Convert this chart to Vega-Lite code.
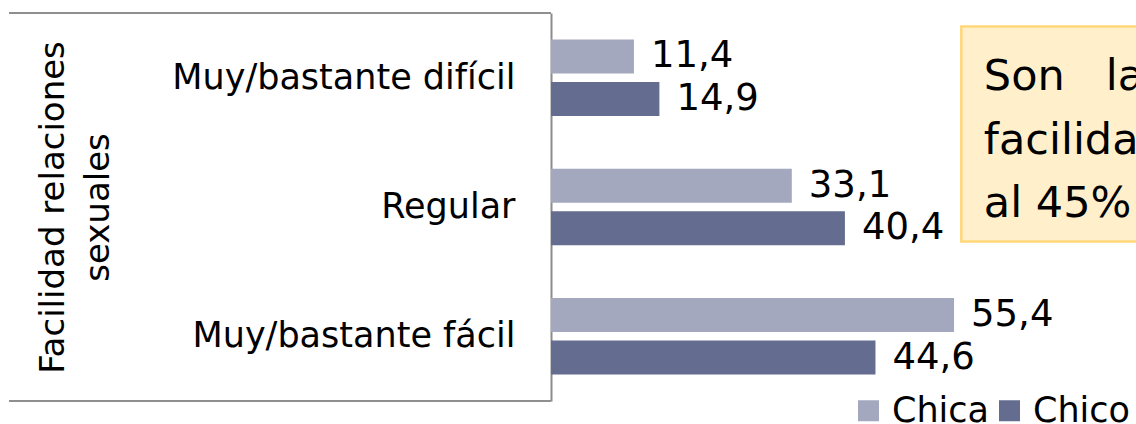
{
  "$schema": "https://vega.github.io/schema/vega-lite/v6.json",
  "width": 582,
  "height": 388,
  "autosize": {"type": "none"},
  "padding": {"left": 551, "top": 13, "right": 3, "bottom": 23},
  "config": {
    "font": "DejaVu Sans",
    "view": {"stroke": null},
    "locale": {"number": {"decimal": ",", "thousands": ".", "grouping": [3], "currency": ["", " €"]}}
  },
  "data": {
    "values": [
      {"cat": "Muy/bastante difícil", "sexo": "Chica", "valor": 11.4},
      {"cat": "Muy/bastante difícil", "sexo": "Chico", "valor": 14.9},
      {"cat": "Regular", "sexo": "Chica", "valor": 33.1},
      {"cat": "Regular", "sexo": "Chico", "valor": 40.4},
      {"cat": "Muy/bastante fácil", "sexo": "Chica", "valor": 55.4},
      {"cat": "Muy/bastante fácil", "sexo": "Chico", "valor": 44.6}
    ]
  },
  "layer": [
    {
      "layer": [
        {
          "mark": {"type": "bar"},
          "encoding": {
            "y": {
              "field": "cat", "type": "nominal", "sort": null,
              "scale": {"domain": ["Muy/bastante difícil", "Regular", "Muy/bastante fácil"], "paddingInner": 0, "paddingOuter": 0},
              "axis": {
                "title": ["Facilidad relaciones", "sexuales"],
                "domain": true, "domainColor": "#8c8c8c", "domainWidth": 2,
                "ticks": false, "tickSize": 0,
                "labelPadding": 36, "labelFontSize": 35, "labelColor": "#000000", "labelLimit": 500,
                "titleFontSize": 34, "titleFontWeight": "normal", "titleColor": "#000000",
                "titleAngle": -90, "titleX": -488, "titleY": 194, "titleAlign": "center",
                "titleBaseline": "alphabetic", "titleLineHeight": 45
              }
            },
            "yOffset": {"field": "sexo", "type": "nominal", "sort": ["Chica", "Chico"], "scale": {"paddingInner": 0.2, "paddingOuter": 0.62}},
            "x": {"field": "valor", "type": "quantitative", "scale": {"domain": [0, 80]}, "axis": null},
            "color": {
              "field": "sexo", "type": "nominal",
              "scale": {"domain": ["Chica", "Chico"], "range": ["#A3A8BF", "#646C8F"]},
              "legend": {
                "orient": "none", "legendX": 300, "legendY": 380, "direction": "horizontal",
                "title": null, "symbolType": "square", "symbolSize": 441, "symbolStrokeWidth": 0,
                "labelFontSize": 35, "labelOffset": 6, "columnPadding": 2, "padding": 0,
                "labelColor": "#000000", "symbolOpacity": 1
              }
            }
          }
        },
        {
          "mark": {"type": "text", "align": "left", "baseline": "middle", "dx": 17, "fontSize": 37, "color": "#000000"},
          "encoding": {
            "y": {"field": "cat", "type": "nominal", "sort": null},
            "yOffset": {"field": "sexo", "type": "nominal", "sort": ["Chica", "Chico"]},
            "x": {"field": "valor", "type": "quantitative"},
            "text": {"field": "valor", "type": "quantitative", "format": ".1f"}
          }
        },
        {
          "transform": [{"filter": "datum.cat === 'Muy/bastante difícil' && datum.sexo === 'Chica'"}],
          "mark": {"type": "rule", "color": "#8f8f8f", "strokeWidth": 2},
          "encoding": {
            "y": {"field": "cat", "type": "nominal", "sort": null, "bandPosition": 0},
            "x": {"datum": -74.5, "type": "quantitative"},
            "x2": {"datum": 0}
          }
        },
        {
          "transform": [{"filter": "datum.cat === 'Muy/bastante fácil' && datum.sexo === 'Chica'"}],
          "mark": {"type": "rule", "color": "#8f8f8f", "strokeWidth": 2},
          "encoding": {
            "y": {"field": "cat", "type": "nominal", "sort": null, "bandPosition": 1},
            "x": {"datum": -74.5, "type": "quantitative"},
            "x2": {"datum": 0}
          }
        }
      ]
    },
    {
      "data": {"values": [{"id": 1}]},
      "layer": [
        {
          "mark": {"type": "rect", "fill": "#FFF0CB", "stroke": "#FFD77A", "strokeWidth": 2.5},
          "encoding": {
            "x": {"datum": 56.4, "type": "quantitative"},
            "x2": {"datum": 95},
            "y": {"datum": 96.5, "type": "quantitative", "scale": {"domain": [0, 100]}, "axis": null},
            "y2": {"datum": 41.1}
          }
        },
        {
          "mark": {"type": "text", "text": ["Son\u00a0\u00a0\u00a0las", "facilidad", "al 45%"], "align": "left", "baseline": "alphabetic", "fontSize": 43, "lineHeight": 63.5, "color": "#000000"},
          "encoding": {
            "x": {"datum": 59.5, "type": "quantitative"},
            "y": {"datum": 80.15, "type": "quantitative", "scale": {"domain": [0, 100]}, "axis": null}
          }
        }
      ]
    }
  ],
  "resolve": {"scale": {"y": "independent"}}
}
